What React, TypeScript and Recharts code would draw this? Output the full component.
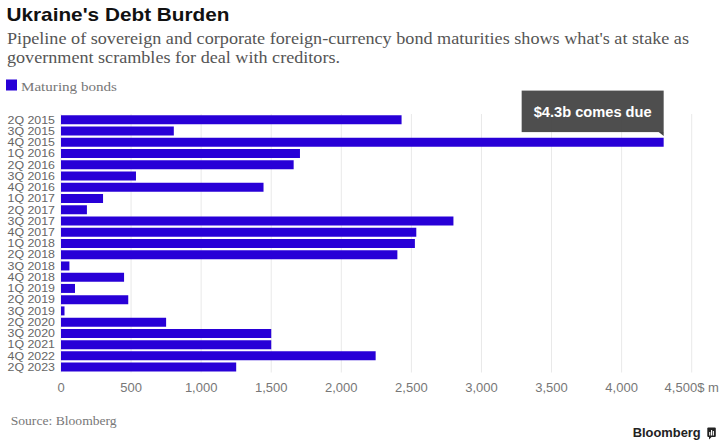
import React from "react"
import { BarChart, Bar, XAxis, YAxis, CartesianGrid, ReferenceDot } from "recharts"

// Quarterly bond maturities, $ m
const quarters = [
  "2Q 2015", "3Q 2015", "4Q 2015", "1Q 2016", "2Q 2016", "3Q 2016", "4Q 2016",
  "1Q 2017", "2Q 2017", "3Q 2017", "4Q 2017", "1Q 2018", "2Q 2018", "3Q 2018",
  "4Q 2018", "1Q 2019", "2Q 2019", "3Q 2019", "2Q 2020", "3Q 2020", "1Q 2021",
  "4Q 2022", "2Q 2023",
]
const maturing = [
  2430, 805, 4300, 1705, 1660, 535, 1445,
  300, 185, 2800, 2535, 2525, 2400, 60,
  450, 100, 480, 25, 750, 1500, 1500,
  2245, 1250,
]
const xTicks = [0, 500, 1000, 1500, 2000, 2500, 3000, 3500, 4000, 4500]

const title = "Ukraine's Debt Burden"
const subtitle = [
  "Pipeline of sovereign and corporate foreign-currency bond maturities shows what's at stake as",
  "government scrambles for deal with creditors.",
]
const seriesName = "Maturing bonds"
const callout = { quarter: "4Q 2015", value: 4300, text: "$4.3b comes due" }
const source = "Source: Bloomberg"

const BLUE = "#2800d7"
const SANS = "'Liberation Sans', Arial, Helvetica, sans-serif"
const SERIF = "'Liberation Serif', 'Times New Roman', serif"

const data = quarters.map((q, i) => ({ quarter: q, value: maturing[i] }))

const formatTick = (v: number) => {
  const s = v.toLocaleString("en-US")
  return v === xTicks[xTicks.length - 1] ? s + "$ m" : s
}

// quarter labels are packed tight, so keep them small but at full width
const QuarterTick = (props: any) => {
  const { x, y, payload } = props
  return (
    <text
      x={x}
      y={y}
      dy={4}
      textAnchor="end"
      fill="#666"
      fontFamily={SANS}
      fontSize={11}
      textLength={47.5}
      lengthAdjust="spacingAndGlyphs"
    >
      {payload.value}
    </text>
  )
}

// dark callout box sitting above the bar end
const CalloutShape = (props: any) => {
  const { cx, cy } = props
  if (cx == null || cy == null) return null
  const right = cx
  const left = cx - 142
  const bottom = cy - 10
  const top = cy - 51.5
  return (
    <g>
      <rect x={left} y={top} width={right - left} height={bottom - top} fill="#444" fillOpacity={0.95} />
      <polygon points={`${right - 5},${bottom} ${right},${bottom} ${right},${bottom + 4}`} fill="#444" />
      <text
        x={(left + right) / 2}
        y={(top + bottom) / 2 + 5.5}
        textAnchor="middle"
        fill="#fff"
        fontFamily={SANS}
        fontWeight="bold"
        fontSize={14.5}
        textLength={118}
        lengthAdjust="spacingAndGlyphs"
      >
        {callout.text}
      </text>
    </g>
  )
}

export default function App() {
  return (
    <div style={{ position: "absolute", left: 0, top: 0, width: 726, height: 446, background: "#fff" }}>
      <svg width={726} height={446} style={{ position: "absolute", left: 0, top: 0 }}>
        <text x={6.5} y={20.7} fontFamily={SANS} fontWeight="bold" fontSize={19} fill="#111"
          textLength={223} lengthAdjust="spacingAndGlyphs">{title}</text>
        <text x={7} y={44.3} fontFamily={SERIF} fontSize={17} fill="#555"
          textLength={682} lengthAdjust="spacingAndGlyphs">{subtitle[0]}</text>
        <text x={7} y={63.3} fontFamily={SERIF} fontSize={17} fill="#555"
          textLength={333} lengthAdjust="spacingAndGlyphs">{subtitle[1]}</text>
        <rect x={6} y={79.5} width={11} height={11} fill={BLUE} />
        <text x={21} y={91} fontFamily={SERIF} fontSize={13.5} fill="#777"
          textLength={96} lengthAdjust="spacingAndGlyphs">{seriesName}</text>
        <text x={10.7} y={425.3} fontFamily={SERIF} fontSize={13} fill="#777"
          textLength={106} lengthAdjust="spacingAndGlyphs">{source}</text>
        <text x={632.7} y={437} fontFamily={SANS} fontWeight="bold" fontSize={13.5} fill="#222"
          textLength={68} lengthAdjust="spacingAndGlyphs">Bloomberg</text>
        <g>
          <rect x={707.3} y={427.5} width={8.5} height={9.5} rx={1} fill="#222" />
          <polygon points="709,437 711.5,437 709,439.5" fill="#222" />
          <rect x={709.2} y={432} width={1.1} height={3.5} fill="#fff" />
          <rect x={711} y={430} width={1.1} height={5.5} fill="#fff" />
          <rect x={712.8} y={431} width={1.1} height={4.5} fill="#fff" />
        </g>
      </svg>
      <div style={{ position: "absolute", left: 0, top: 0 }}>
        <BarChart
          width={726}
          height={446}
          data={data}
          layout="vertical"
          margin={{ top: 114, right: 34.3, bottom: 43.5, left: 0 }}
          barCategoryGap="12%"
        >
          <CartesianGrid horizontal={false} stroke="#e9e9e9" />
          <XAxis
            type="number"
            domain={[0, 4500]}
            ticks={xTicks}
            interval={0}
            tickFormatter={formatTick}
            axisLine={false}
            tickLine={false}
            tickSize={0}
            tickMargin={10}
            height={30}
            tick={{ fill: "#777", fontSize: 13, fontFamily: SANS }}
          />
          <YAxis
            type="category"
            dataKey="quarter"
            width={61}
            interval={0}
            axisLine={false}
            tickLine={false}
            tickSize={0}
            tickMargin={6}
            tick={<QuarterTick />}
          />
          <Bar dataKey="value" fill={BLUE} isAnimationActive={false} />
          <ReferenceDot
            x={callout.value}
            y={callout.quarter}
            ifOverflow="visible"
            shape={CalloutShape}
          />
        </BarChart>
      </div>
    </div>
  )
}
